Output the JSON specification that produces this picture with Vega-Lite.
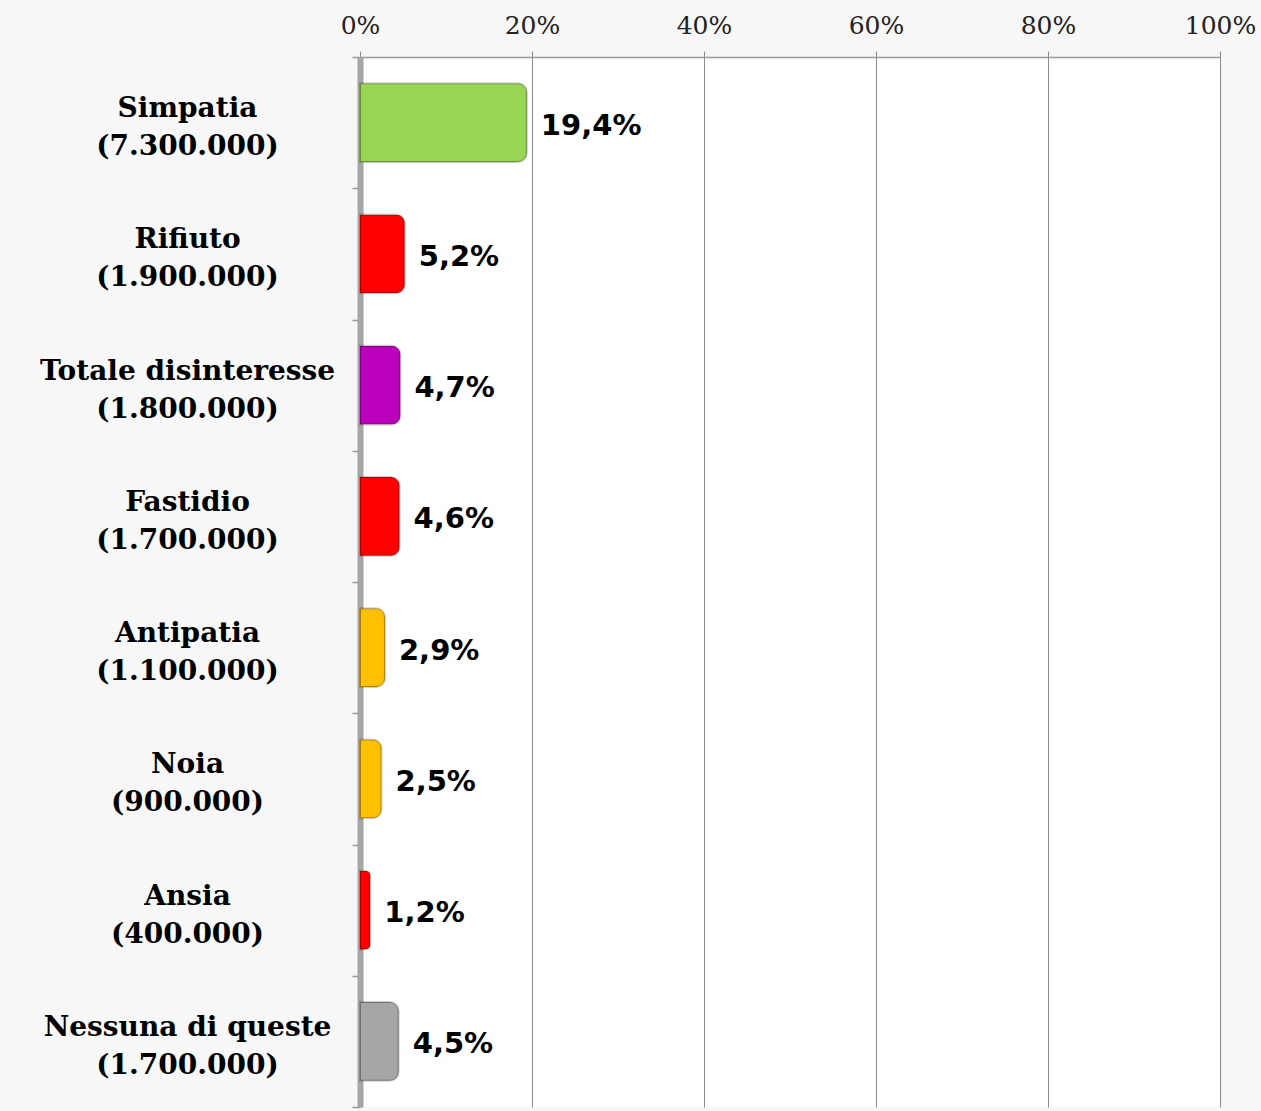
{
  "$schema": "https://vega.github.io/schema/vega-lite/v6.json",
  "autosize": {"type": "none"},
  "width": 860,
  "height": 1050,
  "padding": {"left": 360, "top": 57, "right": 41, "bottom": 4},
  "background": "#f7f7f7",
  "config": {
    "view": {"fill": "white", "stroke": null},
    "locale": {"number": {"decimal": ",", "thousands": ".", "grouping": [3], "currency": ["€", ""]}}
  },
  "data": {
    "values": [
      {"label": "Simpatia|(7.300.000)", "share": 0.194},
      {"label": "Rifiuto|(1.900.000)", "share": 0.052},
      {"label": "Totale disinteresse|(1.800.000)", "share": 0.047},
      {"label": "Fastidio|(1.700.000)", "share": 0.046},
      {"label": "Antipatia|(1.100.000)", "share": 0.029},
      {"label": "Noia|(900.000)", "share": 0.025},
      {"label": "Ansia|(400.000)", "share": 0.012},
      {"label": "Nessuna di queste|(1.700.000)", "share": 0.045}
    ]
  },
  "encoding": {
    "y": {
      "field": "label",
      "type": "nominal",
      "sort": null,
      "title": null,
      "scale": {"paddingInner": 0, "paddingOuter": 0},
      "axis": {
        "labelExpr": "datum.value ? split(datum.value, '|') : ''",
        "labelFont": "DejaVu Serif",
        "labelFontWeight": "bold",
        "labelFontSize": 28,
        "labelLineHeight": 38,
        "labelColor": "#000",
        "labelAlign": "center",
        "labelBaseline": "middle",
        "labelOffset": -14,
        "labelPadding": 165,
        "labelLimit": 400,
        "tickBand": "extent",
        "tickSize": 8,
        "tickColor": "#999",
        "tickWidth": 1.5,
        "domainColor": "#a6a6a6",
        "domainWidth": 6
      }
    },
    "x": {
      "field": "share",
      "type": "quantitative",
      "title": null,
      "scale": {"domain": [0, 1]},
      "axis": {
        "orient": "top",
        "values": [0, 0.2, 0.4, 0.6, 0.8, 1],
        "format": ".0%",
        "labelFont": "DejaVu Serif",
        "labelFontSize": 25,
        "labelColor": "#222",
        "labelPadding": 13,
        "labelFlush": false,
        "tickSize": 6,
        "tickColor": "#888",
        "domainColor": "#999",
        "domainWidth": 1.5,
        "grid": true,
        "gridColor": "#8a8a8a",
        "gridWidth": 1
      }
    }
  },
  "layer": [
    {
      "mark": {"type": "bar", "height": {"band": 0.6}, "cornerRadiusEnd": 9, "stroke": "#000", "strokeOpacity": 0.18, "strokeWidth": 2},
      "encoding": {
        "color": {
          "field": "label",
          "type": "nominal",
          "legend": null,
          "scale": {
            "domain": ["Simpatia|(7.300.000)", "Rifiuto|(1.900.000)", "Totale disinteresse|(1.800.000)", "Fastidio|(1.700.000)", "Antipatia|(1.100.000)", "Noia|(900.000)", "Ansia|(400.000)", "Nessuna di queste|(1.700.000)"],
            "range": ["#99d656", "#ff0000", "#bb00bb", "#ff0000", "#ffc000", "#ffc000", "#ff0000", "#a6a6a6"]
          }
        }
      }
    },
    {
      "mark": {"type": "text", "align": "left", "baseline": "middle", "dx": 14, "dy": 3, "font": "DejaVu Sans", "fontWeight": "bold", "fontSize": 29, "color": "#000"},
      "encoding": {
        "text": {"field": "share", "type": "quantitative", "format": ".1%"}
      }
    }
  ]
}
